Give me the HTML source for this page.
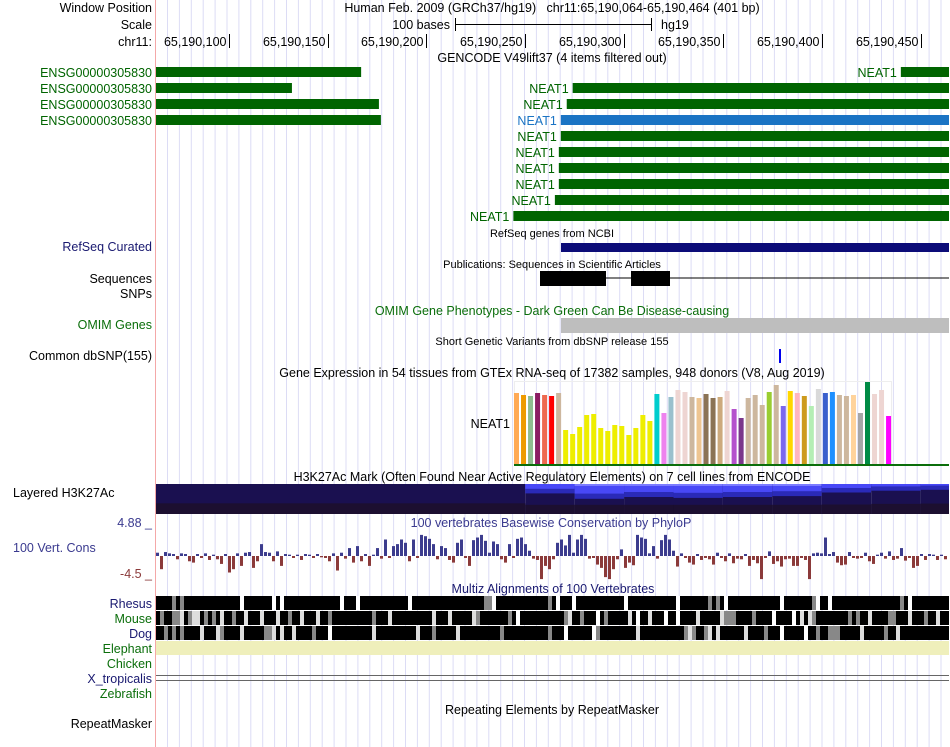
<!DOCTYPE html>
<html><head><meta charset="utf-8">
<style>
html,body{margin:0;padding:0;background:#fff;}
svg{display:block;font-family:"Liberation Sans",sans-serif;}
text{font-size:12.5px;}
</style></head>
<body>
<svg id="g" width="950" height="747" viewBox="0 0 950 747" xmlns="http://www.w3.org/2000/svg">
<g id="grid"></g>
<line x1="155.5" y1="0" x2="155.5" y2="747" stroke="#f4a8a8"/>
<text x="152" y="12" text-anchor="end">Window Position</text>
<text x="552" y="12" text-anchor="middle" xml:space="preserve">Human Feb. 2009 (GRCh37/hg19)   chr11:65,190,064-65,190,464 (401 bp)</text>
<text x="152" y="29" text-anchor="end">Scale</text>
<text x="450" y="29" text-anchor="end">100 bases</text>
<g stroke="#000">
<line x1="455" y1="24.5" x2="652" y2="24.5"/><line x1="455.5" y1="18" x2="455.5" y2="31"/><line x1="651.5" y1="18" x2="651.5" y2="31"/></g>
<text x="661" y="29">hg19</text>
<text x="152" y="46" text-anchor="end">chr11:</text>
<g id="ruler"></g>
<text x="552" y="62" text-anchor="middle">GENCODE V49lift37 (4 items filtered out)</text>
<g id="genes"></g>
<text x="552" y="237" text-anchor="middle" style="font-size:11px">RefSeq genes from NCBI</text>
<text x="152" y="251" text-anchor="end" fill="#191970">RefSeq Curated</text>
<rect x="561" y="243" width="388" height="9" fill="#0c0c78"/>
<text x="552" y="268" text-anchor="middle" style="font-size:11px">Publications: Sequences in Scientific Articles</text>
<text x="152" y="283" text-anchor="end">Sequences</text>
<line x1="606" y1="278" x2="949" y2="278" stroke="#000"/>
<rect x="540" y="271" width="66" height="15" fill="#000"/>
<rect x="631" y="271" width="39" height="15" fill="#000"/>
<text x="152" y="298" text-anchor="end">SNPs</text>
<text x="552" y="315" text-anchor="middle" fill="#0b6e0b">OMIM Gene Phenotypes - Dark Green Can Be Disease-causing</text>
<text x="152" y="329" text-anchor="end" fill="#0b6e0b">OMIM Genes</text>
<rect x="561" y="318" width="388" height="15" fill="#bebebe"/>
<text x="552" y="345" text-anchor="middle" style="font-size:11px">Short Genetic Variants from dbSNP release 155</text>
<text x="152" y="360" text-anchor="end">Common dbSNP(155)</text>
<rect x="779" y="349" width="2" height="14" fill="#0000ee"/>
<text x="552" y="377" text-anchor="middle">Gene Expression in 54 tissues from GTEx RNA-seq of 17382 samples, 948 donors (V8, Aug 2019)</text>
<rect x="514.5" y="381.5" width="377" height="84" fill="none" stroke="#eee"/>
<text x="510" y="428" text-anchor="end">NEAT1</text>
<g id="gtex"></g>
<rect x="514" y="464" width="435" height="2" fill="#0b6e0b"/>
<text x="552" y="481" text-anchor="middle">H3K27Ac Mark (Often Found Near Active Regulatory Elements) on 7 cell lines from ENCODE</text>
<text x="13" y="497">Layered H3K27Ac</text>
<g id="h3k"></g>
<text x="152" y="527" text-anchor="end" fill="#3a3a8f">4.88 _</text>
<text x="13" y="552" fill="#3a3a8f">100 Vert. Cons</text>
<text x="152" y="578" text-anchor="end" fill="#8b3a3a">-4.5 _</text>
<text x="551" y="527" text-anchor="middle" fill="#3a3a8f">100 vertebrates Basewise Conservation by PhyloP</text>
<g id="cons"></g>
<text x="553" y="593" text-anchor="middle" fill="#191970">Multiz Alignments of 100 Vertebrates</text>
<g id="multiz"></g>
<rect x="156" y="641" width="793" height="14" fill="#efefbb"/>
<line x1="156" y1="675.5" x2="949" y2="675.5" stroke="#666"/>
<line x1="156" y1="680.5" x2="949" y2="680.5" stroke="#666"/>
<text x="152" y="608" text-anchor="end" fill="#191970">Rhesus</text>
<text x="152" y="623" text-anchor="end" fill="#0b6e0b">Mouse</text>
<text x="152" y="638" text-anchor="end" fill="#191970">Dog</text>
<text x="152" y="653" text-anchor="end" fill="#0b6e0b">Elephant</text>
<text x="152" y="668" text-anchor="end" fill="#0b6e0b">Chicken</text>
<text x="152" y="683" text-anchor="end" fill="#191970">X_tropicalis</text>
<text x="152" y="698" text-anchor="end" fill="#0b6e0b">Zebrafish</text>
<text x="552" y="714" text-anchor="middle">Repeating Elements by RepeatMasker</text>
<text x="152" y="728" text-anchor="end">RepeatMasker</text>
</svg>
<script>
const NS="http://www.w3.org/2000/svg";
const startBp=65190064, endBp=65190464;
const tickPositions=[65190100,65190150,65190200,65190250,65190300,65190350,65190400,65190450];
const tickLabels=["65,190,100","65,190,150","65,190,200","65,190,250","65,190,300","65,190,350","65,190,400","65,190,450"];
const geneNames=["ENSG00000305830","ENSG00000305830","ENSG00000305830","ENSG00000305830","NEAT1","NEAT1","NEAT1","NEAT1","NEAT1","NEAT1","NEAT1","NEAT1","NEAT1","NEAT1"];
const geneStarts=[65190064,65190064,65190064,65190064,65190440,65190274,65190271,65190268,65190268,65190267,65190267,65190267,65190265,65190244];
const geneEnds=[65190166,65190131,65190175,65190176,65190464,65190464,65190464,65190464,65190464,65190464,65190464,65190464,65190464,65190464];
const geneRows=[0,1,2,3,0,1,2,3,4,5,6,7,8,9];
const geneLeftLabel=[1,1,1,1,0,0,0,0,0,0,0,0,0,0];
const geneHighlight=[0,0,0,0,0,0,0,1,0,0,0,0,0,0];
const gtexValues=[72,70,69,72,70,69,72,35,31,38,50,51,37,34,40,39,30,37,50,44,71,52,68,75,73,68,67,71,67,68,74,56,47,67,70,60,73,80,59,74,72,69,59,76,72,73,70,69,70,52,83,71,75,49];
const gtexColors=["#ffaa55","#ee9a00","#8fbc8f","#8b1c62","#ee6a50","#ff0000","#cdb79e","#eeee00","#eeee00","#eeee00","#eeee00","#eeee00","#eeee00","#eeee00","#eeee00","#eeee00","#eeee00","#eeee00","#eeee00","#eeee00","#00cdcd","#ee82ee","#9ac0cd","#eed5d2","#eed5d2","#cdb79e","#eec591","#8b7355","#8b7355","#cdaa7d","#eed5d2","#b452cd","#7a378b","#cdb79e","#cdb79e","#cdb79e","#9acd32","#cdb79e","#7b68ee","#ffd700","#ffb6c1","#cd9b1d","#b4eeb4","#d9d9d9","#3a5fcd","#1e90ff","#cdb79e","#cdb79e","#ffd39b","#a6a6a6","#008b45","#eed5d2","#eed5d2","#ff00ff"];
const h3kBins=[0,186,211,236,261,286,311,336,361,386];
const h3kSignal=[1,6,12,10,11,10,9,5,3,2];
const consValues=[0.5,-2,0.6,0.4,0.3,-0.5,0.4,0.3,-0.8,-1,
0.3,-0.3,0.4,-0.6,0.2,-0.5,-1.2,0.3,-2.5,-2,
0.4,-1.5,0.5,0.6,-1.8,-0.8,1.8,0.6,0.5,-0.8,
0.7,-1.5,0.3,0.2,-0.3,0.2,-0.6,0.3,0.2,-0.3,
0.3,-0.2,-0.3,-0.8,0.4,-2.2,0.5,-0.4,1.2,-1,
1.5,-0.8,0.3,-1.5,0.2,1.2,-0.4,2.5,-0.3,1.5,
1.8,2.5,2,-0.8,2.5,-0.3,3.2,3,2.6,1.8,
-0.5,1.5,1.2,-0.6,-1,2,2.5,-0.3,-1.5,2.4,
2.8,3.2,2.3,0.5,2.2,1.8,-0.5,-1,1.8,-0.3,
2.6,2.8,1.8,0.8,-0.4,-0.6,-3.5,-1.5,-2,-0.5,
2,2.5,1.6,3.2,0.5,2.5,3.2,2.6,-0.4,-0.3,
-1.3,-1.8,-3.2,-3.5,-2,-0.5,1,-1.8,-1,-1.4,
3.2,2.8,2.6,0.4,1.5,-0.4,2.4,3.2,2.5,0.8,
-1.6,0.4,-0.3,-1,-1.3,0.3,-0.6,-0.3,-0.5,-1.3,
0.5,-0.3,-0.8,0.4,-1.1,-0.4,-0.5,0.3,-1.5,-0.6,
-1.1,-3.5,-0.3,0.7,-1.2,-0.8,-1.6,-0.5,-0.4,-1.5,
-1.5,-0.3,-0.6,-3.5,0.4,0.5,0.4,2.8,0.3,0.6,
-1,-1.4,-1.3,0.6,-0.3,-0.4,-0.3,0.5,-0.8,-1.2,
0.2,0.5,-0.4,0.7,-0.6,-0.4,1.2,-0.7,-0.3,-1.8,
-1.5,0.3,-0.6,0.3,0.2,-0.6,0.2,-0.5];
const rhesusAln="KKKKgKgKKKKKKKKKKKKKK KKKKKKK K KKKKKKKKKKKKKK KKK KKKKKKKKKKKK KKKKKKKKKKKKKKKKKKgg KKKKKKKKKKKKKgK KKK KKKKKKKKKKKK KKKKKKKKKKKK KKKKKKKgKgK KKKKKKKKKKKKK KKKKKKKg KK KKKKKKKKKKKKKKKKKgK KKKKKKKKKKKKKKKKKgKKKKKK";
const mouseAln="KgKKggwKgwwKgKgKwKKgKKwKKKwKKKwKKgKKwKKKwKKgKKKKKKKKKKgKKKwKKKKKKKKKKwKKKwKKKKKwgKKKKKKKgK KKKKKKKKKKKgwKKgKKK KgKKKKKwK KKwKKK KK KKKKwKKKKKwgggKKKKgKKKK KKKK KwKwgKKKKKKKKgKgKKwKKKKggKKKwKKKgKKwKK";
const dogAln="KKgKgKgKKKKwKKKwgKKKKwKKKKKggwKwKKwKKKKgKKK KKKKKKKKKKwKKKKKKKKKKwKKKgKKKKKwKKKKKKKKKKgKKKKKKKKKKKgKKK KKKKKK gKKKKKKKKKwKKKKKKKKKKKgwgKKgwKwKKKKKKwKKKKgKKK KKKKK KKgKKgggKKKKKwKKKKKgKKwKKKKKKK";
const X0=156, X1=949, PX=1.977, XOFF=157.5;
function xScale(bp){if(bp<=startBp)return X0;return Math.min(X1,XOFF+(bp-startBp)*PX);}
function add(parent,tag,attrs){const e=document.createElementNS(NS,tag);for(const k in attrs)e.setAttribute(k,attrs[k]);parent.appendChild(e);return e;}
const grid=document.getElementById('grid');
for(let gx=167.5;gx<950;gx+=11.9){
  const l=add(grid,'line',{x1:gx,y1:0,x2:gx,y2:747,stroke:'#dcdcf5'});
  
  
}
const ruler=document.getElementById('ruler');
tickPositions.forEach((p,i)=>{
  const x=Math.round(xScale(p))+0.5;
  const l=add(ruler,'line',{x1:x,y1:34,x2:x,y2:48,stroke:'#000'});
  
  
  const t=add(ruler,'text',{x:x-3,y:46,'text-anchor':'end'});t.textContent=tickLabels[i];
  
  
});
const genes=document.getElementById('genes');
geneNames.forEach((n,i)=>{
  const y=67+geneRows[i]*16;
  const xs=xScale(geneStarts[i]), xe=(geneEnds[i]>=endBp)?949:xScale(geneEnds[i]+1);
  const col=geneHighlight[i]?'#1a73c4':'#006400';
  const r=add(genes,'rect',{x:xs,y:y,width:xe-xs,height:10,fill:col});
  
  
  const t=add(genes,'text',{x:geneLeftLabel[i]?152:xs-4,y:y+10,'text-anchor':'end',fill:col});
  t.textContent=n;
  
  
});
const gtex=document.getElementById('gtex');
const gBase=465, gScale=1.0, gX=514, gStep=7.02;
gtexValues.forEach((v,i)=>{
  const h=v*gScale;
  const r=add(gtex,'rect',{x:gX+i*gStep,y:gBase-h,width:5,height:h,fill:gtexColors[i]});
  
  
});
const h3k=document.getElementById('h3k');
h3kBins.forEach((b,i)=>{
  const xs=xScale(startBp+b), xe=i+1<h3kBins.length?xScale(startBp+h3kBins[i+1]):949;
  const s=h3kSignal[i], w=xe-xs;
  const g=add(h3k,'g',{});
  
  
  add(g,'rect',{x:xs,y:484,width:w,height:30,fill:'#1a1050'});
  add(g,'rect',{x:xs,y:503+Math.min(s,6)*0.3,width:w,height:11-Math.min(s,6)*0.3,fill:'#1c0f30'});
  if(s>1){add(g,'rect',{x:xs,y:484,width:w,height:4+s*0.9,fill:'#2a2ab8'});
          add(g,'rect',{x:xs,y:484,width:w,height:s*0.8,fill:'#4848f6'});}
  if(s>8) add(g,'rect',{x:xs,y:484,width:w,height:2,fill:'#7b7bff'});
});
const cons=document.getElementById('cons');
const zeroY=556, unit=6.6;
consValues.forEach((v,i)=>{
  const x=X0+i*4;
  const h=Math.abs(v)*unit;
  const r=add(cons,'rect',{x:x,y:v>=0?zeroY-h:zeroY,width:3,height:Math.max(h,1),fill:v>=0?'#3c3c8e':'#8b3a3a'});
  
  
});
const mz=document.getElementById('multiz');
const mColors={'K':'#000','g':'#888','w':'#ddd',' ':'#fff'};
[[rhesusAln,596,'rhesus'],[mouseAln,611,'mouse'],[dogAln,626,'dog']].forEach(([s,y,nm])=>{
  const row=add(mz,'g',{});
  
  
  for(let i=0;i<198;i++){
    const c=i<s.length?s[i]:'K';
    add(row,'rect',{x:X0+i*4,y:y,width:(i===197?5:4),height:14,fill:mColors[c]});
  }
});
</script>
</body></html>
